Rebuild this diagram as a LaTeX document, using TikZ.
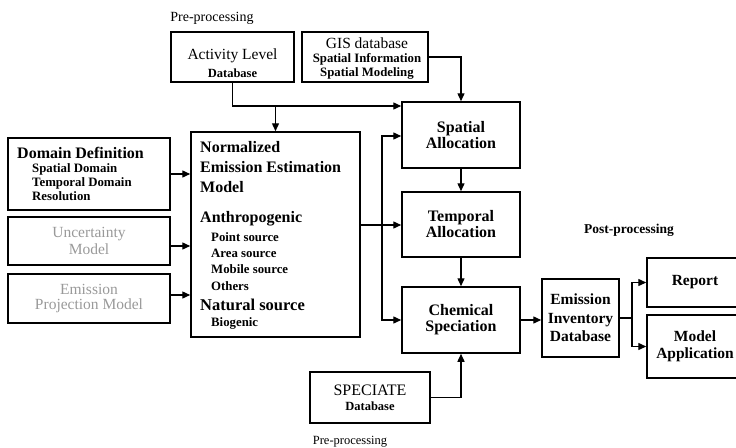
\documentclass[tikz,border=0pt]{standalone}
\usepackage{fontspec}
\setmainfont{Liberation Serif}
\usetikzlibrary{arrows.meta,calc}
\newcommand\fsz[2]{\fontsize{#1}{#2}\selectfont}
\begin{document}
\begin{tikzpicture}[x=1pt,y=-1pt,
  box/.style={draw, line width=1.5pt, inner sep=0pt, align=center},
  arr/.style={line width=1.4pt, -{Triangle[length=8pt,width=7pt]}},
  ln/.style={line width=1.4pt},
  big/.style={font=\fsz{16}{16}\bfseries, anchor=base west, inner sep=0pt},
  small/.style={font=\fsz{12.8}{13}\bfseries, anchor=base west, inner sep=0pt},
  faded/.style={text=black!40, font=\fsz{15.5}{17}}]
\useasboundingbox (0,0) rectangle (736,447);
\clip (0,0) rectangle (736,447);

% labels
\node[font=\fsz{14}{14}] (preA) at (212,18) {Pre-processing};
\node[font=\fsz{13.5}{14}\bfseries] (post) at (629,230) {Post-processing};
\node[font=\fsz{12.5}{13}] (preB) at (350,442) {Pre-processing};

% top databases
\node[box, minimum width=123pt, minimum height=50pt] (act) at (232.5,57) {};
\node[align=center, inner sep=0pt, font=\fsz{15.5}{18}] (actT) at (232.5,63)
  {Activity Level\\{\fsz{12.5}{14}\bfseries Database}};
\node[box, minimum width=126pt, minimum height=50pt] (gis) at (365,57) {};
\node[align=center, inner sep=0pt, font=\fsz{15.5}{14}] (gisT) at (367,59)
  {GIS database\\{\fsz{12.8}{14}\bfseries Spatial Information}\\{\fsz{12.8}{14}\bfseries Spatial Modeling}};

% left inputs
\node[box, minimum width=162pt, minimum height=72pt] (dom) at (89,174) {};
\node[big] (domA) at (17,158) {Domain Definition};
\node[small] (domB) at (32,172) {Spatial Domain};
\node[small] (domC) at (32,186) {Temporal Domain};
\node[small] (domD) at (32,200) {Resolution};

\node[box, faded, minimum width=162pt, minimum height=48pt] (unc) at (89,241) {Uncertainty\\Model};
\node[box, faded, minimum width=162pt, minimum height=49pt, font=\fsz{15.5}{15.5}] (proj) at (89,298.5) {Emission\\Projection Model};

% normalized model
\node[box, minimum width=169pt, minimum height=205pt] (norm) at (275.5,234.5) {};
\node[big] (n1) at (200,152) {Normalized};
\node[big] (n2) at (200,172) {Emission Estimation};
\node[big] (n3) at (200,192) {Model};
\node[big] (n4) at (200,222) {Anthropogenic};
\node[small] (n5) at (211,241) {Point source};
\node[small] (n6) at (211,257) {Area source};
\node[small] (n7) at (211,273) {Mobile source};
\node[small] (n8) at (211,290) {Others};
\node[big, font=\fsz{16.5}{16}\bfseries] (n9) at (200,310) {Natural source};
\node[small] (n10) at (211,326) {Biogenic};

% processing chain
\node[box, minimum width=118pt, minimum height=66pt, font=\fsz{16}{16}\bfseries] (spa) at (461,135) {Spatial\\Allocation};
\node[box, minimum width=118pt, minimum height=65pt, font=\fsz{16}{16}\bfseries] (tem) at (461,224.5) {Temporal\\Allocation};
\node[box, minimum width=118pt, minimum height=66pt, font=\fsz{16}{16}\bfseries] (chem) at (461,320) {Chemical\\Speciation};
\node[box, minimum width=120pt, minimum height=51pt, font=\fsz{16}{15}] (spec) at (370,397.5)
  {SPECIATE\\{\fsz{12.5}{14}\bfseries Database}};
\node[box, minimum width=77pt, minimum height=78pt, font=\fsz{15.5}{18.5}\bfseries] (eid) at (580.5,318) {Emission\\Inventory\\Database};
\node[box, minimum width=96pt, minimum height=49pt, font=\fsz{15.5}{17}\bfseries] (rep) at (695,282.5) {Report};
\node[box, minimum width=96pt, minimum height=63pt, font=\fsz{15.5}{17.5}\bfseries] (ma) at (695,346.5) {Model\\Application};

% connectors
\coordinate (pA) at (300,106);
\coordinate (pB) at (382,225);
\coordinate (pC) at (382,136);
\coordinate (pD) at (632,318);
\draw[arr] (act.south) |- (spa.west |- pA);
\draw[arr] (norm.north |- pA) -- (norm.north);
\draw[arr] (gis.east) -| (spa.north);
\draw[ln] (norm.east |- pB) -- (pB);
\draw[arr] (pB) -- (tem.west |- pB);
\draw[arr] (pB) |- (spa.west |- pC);
\draw[arr] (pB) |- (chem.west);
\draw[arr] (spa.south) -- (tem.north);
\draw[arr] (tem.south) -- (chem.north);
\draw[arr] (spec.east) -| (chem.south);
\draw[arr] (dom.east) -- (dom.east -| norm.west);
\draw[arr] ([yshift=-5pt]unc.east) -- ([yshift=-5pt]unc.east -| norm.west);
\draw[arr] ([yshift=3.5pt]proj.east) -- ([yshift=3.5pt]proj.east -| norm.west);
\draw[arr] (chem.east) -- (chem.east -| eid.west);
\draw[ln] (eid.east) -- (pD);
\draw[arr] (pD) |- (rep.west);
\draw[arr] (pD) |- (ma.west);
\end{tikzpicture}
\end{document}
